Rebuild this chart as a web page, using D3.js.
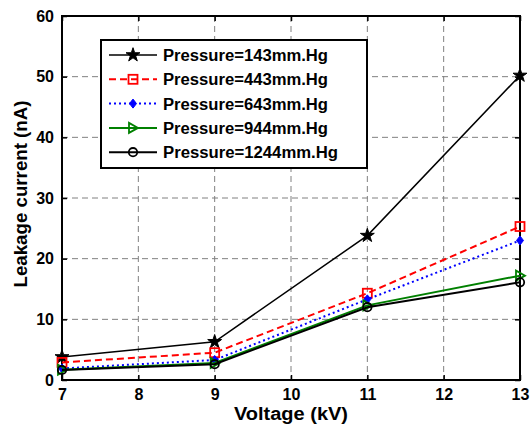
<!DOCTYPE html>
<html>
<head>
<meta charset="utf-8">
<script src="https://cdn.jsdelivr.net/npm/d3@7"></script>
<style>
  body { margin: 0; background: #fff; }
  text { font-family: "Liberation Sans", Arial, sans-serif; font-weight: bold; }
</style>
</head>
<body>
<div id="chart"></div>
<script>
// data
var voltages = [7, 9, 11, 13];
var seriesNames = ["Pressure=143mm.Hg", "Pressure=443mm.Hg", "Pressure=643mm.Hg",
                   "Pressure=944mm.Hg", "Pressure=1244mm.Hg"];
var p143 = [3.8, 6.3, 23.8, 50.2];
var p443 = [2.9, 4.5, 14.3, 25.3];
var p643 = [1.9, 3.3, 13.3, 23.0];
var p944 = [1.7, 2.8, 12.3, 17.2];
var p1244 = [1.65, 2.6, 12.0, 16.1];
var xTicks = [7, 8, 9, 10, 11, 12, 13];
var yTicks = [0, 10, 20, 30, 40, 50, 60];

var margin = { top: 16, right: 10, bottom: 44, left: 62 },
    W = 530, H = 424,
    width = W - margin.left - margin.right,
    height = H - margin.top - margin.bottom;

var x = d3.scaleLinear().domain([7, 13]).range([0, width]);
var y = d3.scaleLinear().domain([0, 60]).range([height, 0]);

var svg = d3.select("#chart").append("svg")
    .attr("width", W)
    .attr("height", H)
    .append("g")
    .attr("transform", "translate(" + margin.left + "," + margin.top + ")");

// grid
svg.append("g").selectAll("line").data(xTicks.slice(1, -1)).enter().append("line")
    .attr("x1", function (d) { return x(d); }).attr("x2", function (d) { return x(d); })
    .attr("y1", 0).attr("y2", height)
    .attr("stroke", "#808080").attr("stroke-dasharray", "6,4");
svg.append("g").selectAll("line").data(yTicks.slice(1, -1)).enter().append("line")
    .attr("y1", function (d) { return y(d); }).attr("y2", function (d) { return y(d); })
    .attr("x1", 0).attr("x2", width)
    .attr("stroke", "#808080").attr("stroke-dasharray", "6,4");

// axes
var xAxis = svg.append("g")
    .attr("transform", "translate(0," + height + ")")
    .call(d3.axisBottom(x).tickValues(xTicks).tickSize(-5).tickPadding(10).tickFormat(d3.format("d")));
var yAxis = svg.append("g")
    .call(d3.axisLeft(y).tickValues(yTicks).tickSize(-5).tickPadding(10).tickFormat(d3.format("d")));
svg.append("g")
    .call(d3.axisTop(x).tickValues(xTicks).tickSize(-5).tickFormat(""));
svg.append("g")
    .attr("transform", "translate(" + width + ",0)")
    .call(d3.axisRight(y).tickValues(yTicks).tickSize(-5).tickFormat(""));
svg.selectAll(".domain").remove();
svg.selectAll(".tick line").attr("stroke", "#000").attr("stroke-width", 1.5);
svg.selectAll(".tick text").attr("font-size", 16).attr("fill", "#000")
    .style("font-family", "'Liberation Sans', Arial, sans-serif").style("font-weight", "bold");
xAxis.selectAll(".tick text").attr("dy", "0.6em");
yAxis.selectAll(".tick text").attr("dx", "2px");

svg.append("rect")
    .attr("width", width).attr("height", height)
    .attr("fill", "none").attr("stroke", "#000").attr("stroke-width", 2);

// axis labels
svg.append("text")
    .attr("x", width / 2).attr("y", height + 40)
    .attr("text-anchor", "middle").attr("font-size", 18)
    .attr("textLength", 114).attr("lengthAdjust", "spacingAndGlyphs")
    .text("Voltage (kV)");
svg.append("text")
    .attr("transform", "rotate(-90)")
    .attr("x", -height / 2 + 4).attr("y", -35)
    .attr("text-anchor", "middle").attr("font-size", 18)
    .attr("textLength", 187).attr("lengthAdjust", "spacingAndGlyphs")
    .text("Leakage current (nA)");

// series
var series = [
    { name: seriesNames[0], vals: p143, color: "#000", dash: null, w: 1.5, marker: "star" },
    { name: seriesNames[1], vals: p443, color: "#ff0000", dash: "7,4", w: 2, marker: "square" },
    { name: seriesNames[2], vals: p643, color: "#0000ff", dash: "2,3", w: 2, marker: "diamond" },
    { name: seriesNames[3], vals: p944, color: "#008000", dash: null, w: 2, marker: "triangle" },
    { name: seriesNames[4], vals: p1244, color: "#000", dash: null, w: 2, marker: "circle" }
];

function drawMarker(g, type, color, cx, cy) {
    if (type === "star") {
        g.append("path").attr("d", d3.symbol().type(d3.symbolStar).size(60)())
            .attr("transform", "translate(" + cx + "," + cy + ")")
            .attr("fill", color).attr("stroke", color).attr("stroke-width", 1);
    } else if (type === "square") {
        g.append("rect").attr("x", cx - 4.5).attr("y", cy - 4.5).attr("width", 9).attr("height", 9)
            .attr("fill", "none").attr("stroke", color).attr("stroke-width", 1.8);
    } else if (type === "diamond") {
        g.append("path").attr("d", "M0,-4.5L3.5,0L0,4.5L-3.5,0Z")
            .attr("transform", "translate(" + cx + "," + cy + ")")
            .attr("fill", color).attr("stroke", color).attr("stroke-width", 1);
    } else if (type === "triangle") {
        g.append("path").attr("d", "M-4,-5L5,0L-4,5Z")
            .attr("transform", "translate(" + cx + "," + cy + ")")
            .attr("fill", "none").attr("stroke", color).attr("stroke-width", 1.8);
    } else {
        g.append("circle").attr("cx", cx).attr("cy", cy).attr("r", 4.2)
            .attr("fill", "none").attr("stroke", color).attr("stroke-width", 1.8);
    }
}

var line = d3.line()
    .x(function (d, i) { return x(voltages[i]); })
    .y(function (d) { return y(d); });

series.forEach(function (s) {
    var g = svg.append("g");
    g.append("path").datum(s.vals)
        .attr("d", line)
        .attr("fill", "none").attr("stroke", s.color).attr("stroke-width", s.w)
        .attr("stroke-dasharray", s.dash);
    s.vals.forEach(function (v, i) {
        drawMarker(g, s.marker, s.color, x(voltages[i]), y(v));
    });
});

// legend
var lx = 101 - margin.left, ly = 40 - margin.top;
var legend = svg.append("g").attr("transform", "translate(" + lx + "," + ly + ")");
legend.append("rect")
    .attr("width", 266).attr("height", 128)
    .attr("fill", "#fff").attr("stroke", "#000").attr("stroke-width", 2);
series.forEach(function (s, i) {
    var ry = 15 + i * 24.3;
    legend.append("line")
        .attr("x1", 8).attr("x2", 56).attr("y1", ry).attr("y2", ry)
        .attr("stroke", s.color).attr("stroke-width", s.w)
        .attr("stroke-dasharray", s.dash);
    drawMarker(legend, s.marker, s.color, 32, ry);
    legend.append("text")
        .attr("x", 62).attr("y", ry + 6)
        .attr("font-size", 16)
        .attr("textLength", i === 4 ? 175 : 165).attr("lengthAdjust", "spacingAndGlyphs")
        .text(s.name);
});
</script>
</body>
</html>
